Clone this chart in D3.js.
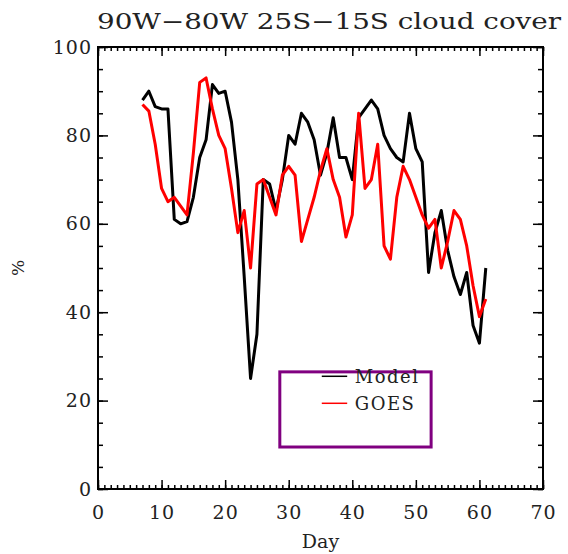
<!DOCTYPE html>
<html>
<head>
<meta charset="UTF-8">
<script src="https://d3js.org/d3.v7.min.js"></script>
<style>
  body { margin: 0; background: #fff; }
  svg text { font-family: 'DejaVu Serif', serif; fill: #222; }
  .line { fill: none; stroke-width: 3px; stroke-linejoin: round; }
  .tick line { stroke: #000; stroke-width: 1.5px; }
</style>
</head>
<body>
<svg width="568" height="554"></svg>
<script>
// days 7..61
const days = d3.range(7, 62);
const model = [88, 90, 86.5, 86, 86, 61, 60, 60.5, 66, 75, 79, 91.5, 89.5, 90, 83, 70, 48, 25, 35, 70,
               69, 63, 70, 80, 78, 85, 83, 79, 71, 76, 84, 75, 75, 70, 84, 86, 88, 86, 80, 77,
               75, 74, 85, 77, 74, 49, 58, 63, 54, 48, 44, 49, 37, 33, 50];
const goes = [87, 85.5, 78, 68, 65, 66, 64, 62, 76, 92, 93, 86, 80, 77, 68, 58, 63, 50, 69, 70,
              66, 62, 71, 73, 71, 56, 61, 66, 72, 77, 70, 66, 57, 62, 85, 68, 70, 78, 55, 52,
              66, 73, 70, 66, 62, 59, 61, 50, 56, 63, 61, 55, 46, 39, 43];
const xTicks = [0, 10, 20, 30, 40, 50, 60, 70];
const yTicks = [0, 20, 40, 60, 80, 100];
const seriesNames = ["Model", "GOES"];
const seriesColors = ["#000000", "#ff0000"];

const svg = d3.select("svg");
const m = {left: 98, top: 47, right: 25, bottom: 65};
const W = 568 - m.left - m.right, H = 554 - m.top - m.bottom;
const g = svg.append("g").attr("transform", `translate(${m.left},${m.top})`);

const x = d3.scaleLinear().domain([0, 70]).range([0, W]);
const y = d3.scaleLinear().domain([0, 100]).range([H, 0]);

// ticks (inward) on all four sides
function addAxis(axis, tx, ty, labels) {
  const a = g.append("g").attr("transform", `translate(${tx},${ty})`).call(axis);
  a.select(".domain").remove();
  if (!labels) a.selectAll("text").remove();
  return a;
}
const xMinor = d3.range(0, 71);
const yMinor = d3.range(0, 101, 5);
addAxis(d3.axisBottom(x).tickValues(xMinor).tickSize(-4).tickFormat(""), 0, H, false);
addAxis(d3.axisTop(x).tickValues(xMinor).tickSize(-4).tickFormat(""), 0, 0, false);
addAxis(d3.axisLeft(y).tickValues(yMinor).tickSize(-5).tickFormat(""), 0, 0, false);
addAxis(d3.axisRight(y).tickValues(yMinor).tickSize(-5).tickFormat(""), W, 0, false);

addAxis(d3.axisBottom(x).tickValues(xTicks).tickSize(-9).tickPadding(17), 0, H, true);
addAxis(d3.axisTop(x).tickValues(xTicks).tickSize(-9).tickFormat(""), 0, 0, false);
addAxis(d3.axisLeft(y).tickValues(yTicks).tickSize(-10).tickPadding(6), 0, 0, true);
addAxis(d3.axisRight(y).tickValues(yTicks).tickSize(-10).tickFormat(""), W, 0, false);
g.selectAll(".tick text").style("font-size", "19px").style("letter-spacing", "1px")
  .attr("font-family", null);

g.append("rect").attr("width", W).attr("height", H)
  .attr("fill", "none").attr("stroke", "#000").attr("stroke-width", 2);

// lines
const line = d3.line().x((d, i) => x(days[i])).y(d => y(d));
[model, goes].forEach((s, k) => {
  g.append("path").datum(s).attr("class", "line")
    .attr("stroke", seriesColors[k]).attr("d", line);
});

// legend
const leg = g.append("g");
leg.append("rect").attr("x", x(28.6)).attr("y", y(26.5)).attr("width", x(52.4) - x(28.6))
  .attr("height", y(9.5) - y(26.5)).attr("fill", "none").attr("stroke", "#800080").attr("stroke-width", 3);
seriesNames.forEach((n, k) => {
  const yy = y(25.5) + k * 27;
  leg.append("line").attr("x1", x(35.2)).attr("x2", x(39.2)).attr("y1", yy).attr("y2", yy)
    .attr("stroke", seriesColors[k]).attr("stroke-width", 1.5);
  leg.append("text").attr("x", x(40.4)).attr("y", yy + 7).style("font-size", "18px")
    .style("letter-spacing", "1.5px").text(n);
});

// titles
svg.append("text").attr("x", 97).attr("y", 29).attr("textLength", 464)
  .attr("lengthAdjust", "spacingAndGlyphs").style("font-size", "22px")
  .text("90W\u221280W 25S\u221215S cloud cover");
svg.append("text").attr("x", m.left + x(35)).attr("y", 548).attr("text-anchor", "middle")
  .style("font-size", "19px").text("Day");
svg.append("text").attr("transform", `translate(24,${m.top + y(50)}) rotate(-90)`)
  .attr("text-anchor", "middle").style("font-size", "17px").text("%");
</script>
</body>
</html>
